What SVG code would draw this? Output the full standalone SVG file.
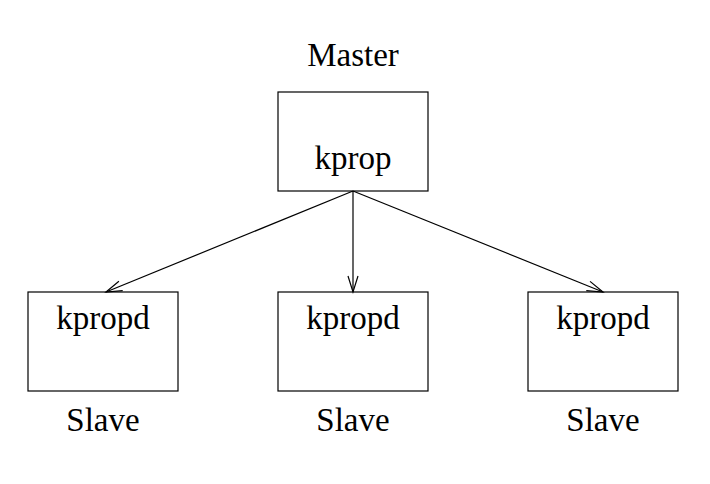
<svg xmlns="http://www.w3.org/2000/svg" width="710" height="484" viewBox="0 0 710 484">
<defs>
<style>
.box{fill:none;stroke:#000;stroke-width:1.2}
.t{font-family:"Liberation Serif","Times New Roman",serif;font-size:33px;fill:#000;text-anchor:middle}
.c{stroke:#000;stroke-width:1.2;fill:none}
</style>
<marker id="ah" markerWidth="20" markerHeight="14" refX="0" refY="0" viewBox="-17 -7 20 14" markerUnits="userSpaceOnUse" orient="auto">
<path d="M-16,-5 L0,0 L-16,5" fill="none" stroke="#000" stroke-width="1.2"/>
</marker>
</defs>
<rect width="710" height="484" fill="#fff"/>
<g id="master">
<text class="t" x="353" y="66">Master</text>
<rect class="box" x="278" y="92" width="150" height="99"/>
<text class="t" x="353" y="169">kprop</text>
</g>
<g id="slave1">
<rect class="box" x="28" y="292" width="150" height="99"/>
<text class="t" x="103" y="329">kpropd</text>
<text class="t" x="103" y="431">Slave</text>
</g>
<g id="slave2">
<rect class="box" x="278" y="292" width="150" height="99"/>
<text class="t" x="353" y="329">kpropd</text>
<text class="t" x="353" y="431">Slave</text>
</g>
<g id="slave3">
<rect class="box" x="528" y="292" width="150" height="99"/>
<text class="t" x="603" y="329">kpropd</text>
<text class="t" x="603" y="431">Slave</text>
</g>
<g id="connectors">
<line class="c" x1="353" y1="191" x2="106" y2="292" marker-end="url(#ah)"/>
<line class="c" x1="353" y1="191" x2="353" y2="292" marker-end="url(#ah)"/>
<line class="c" x1="353" y1="191" x2="603" y2="292" marker-end="url(#ah)"/>
</g>
</svg>
